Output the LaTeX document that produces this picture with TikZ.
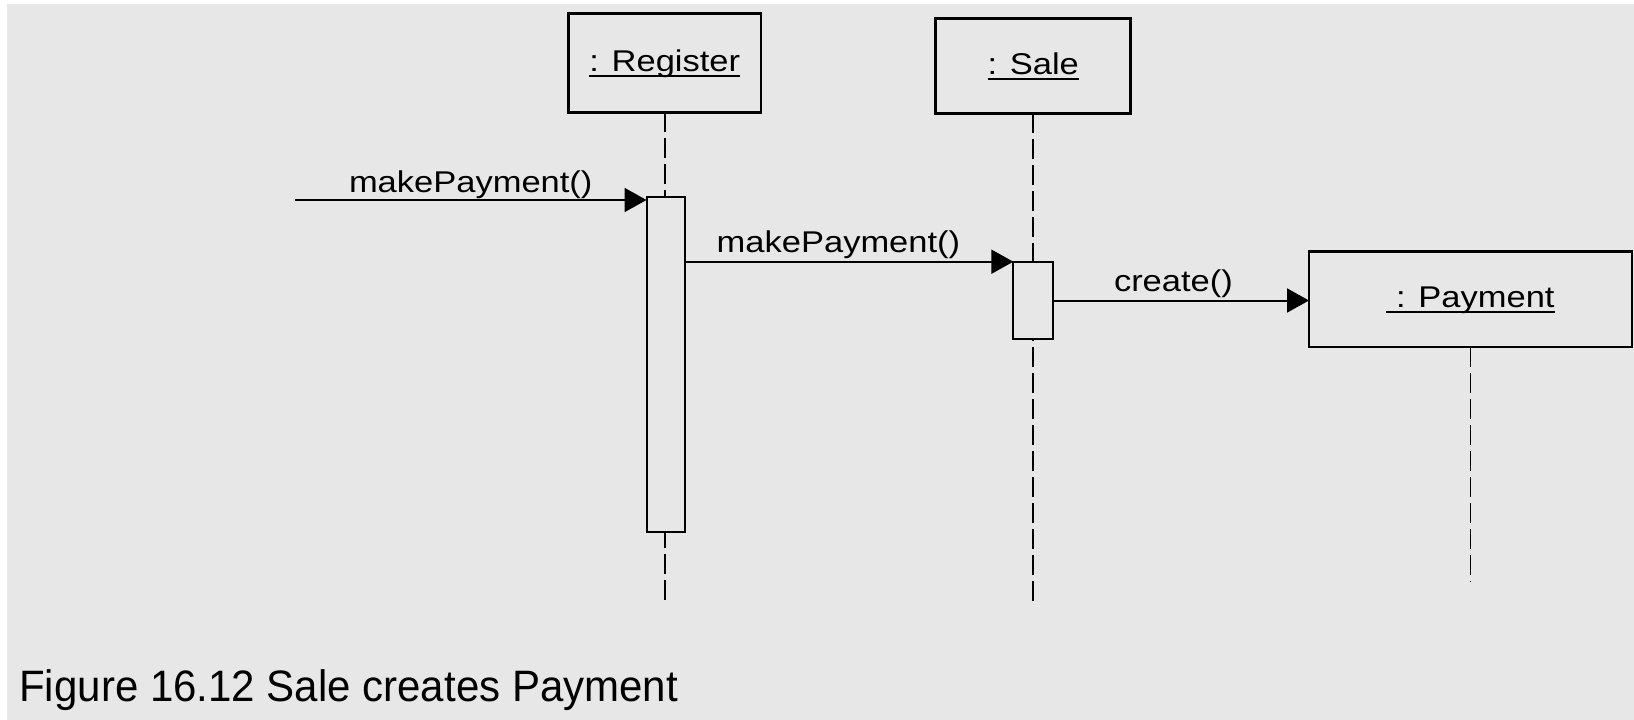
\documentclass[tikz,border=0pt]{standalone}
\usepackage{fontspec}
\setmainfont[FakeStretch=1.15]{Liberation Sans}
\newfontfamily\captionfont[FakeStretch=0.955]{Liberation Sans}
\usetikzlibrary{arrows.meta}
\definecolor{paper}{RGB}{231,231,231}
% object name with a rule close under the baseline
\newcommand{\objname}[1]{\setbox0\hbox{#1}\rlap{\rule[-5.5pt]{\wd0}{2pt}}\box0}

\begin{document}
\begin{tikzpicture}[x=1pt,y=-1pt,
  every node/.style={font=\fontsize{30}{36}\selectfont, inner sep=0pt, outer sep=0pt},
  object/.style={draw, line width=2.6pt, fill=paper, text height=21pt, text depth=4pt},
  activation/.style={draw, line width=2pt, fill=paper, minimum width=38pt},
  lifeline/.style={line width=1.8pt, dash pattern=on 20pt off 6pt},
  message/.style={line width=2pt, -{Triangle[length=22pt,width=24pt]}},
  msglabel/.style={anchor=base west},
]
% sheet
\fill[white] (0,0) rectangle (1634,720);
\fill[paper] (7,4) rectangle (1634,720);
\useasboundingbox (0,0) rectangle (1634,720);

% participants
\node[object, minimum width=192.5pt, minimum height=99pt] (reg) at (664.75,62.7) {\objname{: Register}};
\node[object, minimum width=195pt, minimum height=95pt] (sale) at (1033.2,65.8) {\objname{: Sale}};
\node[object, minimum width=323pt, minimum height=95.6pt] (pay) at (1470.5,299.2) {\objname{\ : Payment}};

% lifelines
\coordinate (regEnd) at (664.75,600);
\coordinate (saleEnd) at (1033.2,606);
\coordinate (payEnd) at (1470.5,582);
\draw[lifeline] (reg.south) -- (regEnd);
\draw[lifeline] (sale.south) -- (saleEnd);
\draw[lifeline] (pay.south) -- (payEnd);

% activations
\node[activation, minimum height=334.7pt] (regAct) at (665.5,364.7) {};
\node[activation, minimum width=40pt, minimum height=77.6pt] (saleAct) at (1033.3,300.5) {};

% messages
\coordinate (m1start) at (295,200);
\draw[message] (m1start) -- (regAct.west |- m1start);
\draw[message] (regAct.east |- saleAct.north) -- (saleAct.north west);
\draw[message] (saleAct.east) -- (saleAct.east -| pay.west);

\node[msglabel] (l1) at (349,192.7) {makePayment()};
\node[msglabel] (l2) at (716.7,252.7) {makePayment()};
\node[msglabel] (l3) at (1114,291.7) {create()};

% caption
\node[anchor=base west, font=\captionfont\fontsize{44}{52}\selectfont] (caption) at (19.3,701.7) {Figure 16.12 Sale creates Payment};
\end{tikzpicture}
\end{document}
